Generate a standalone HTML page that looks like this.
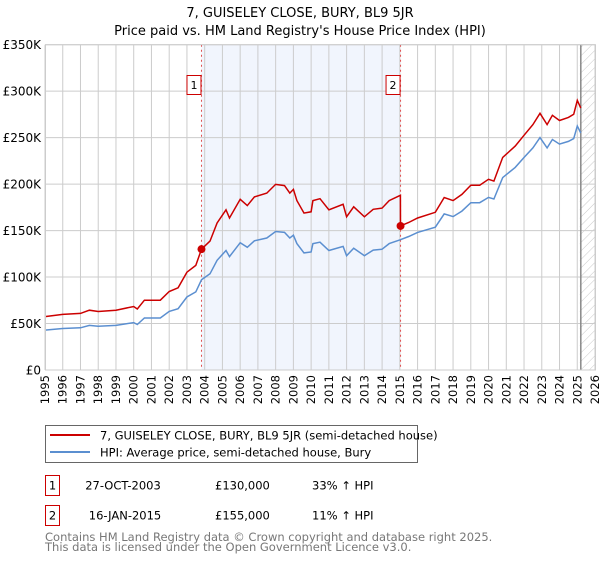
<!DOCTYPE html>
<html><head><meta charset="utf-8"><style>
body{margin:0;background:#fff;font-family:"Liberation Sans","DejaVu Sans",sans-serif}
svg text{font-family:"DejaVu Sans","Liberation Sans",sans-serif}
</style></head><body>
<svg id="c" width="600" height="560" xmlns="http://www.w3.org/2000/svg">
<defs><pattern id="hatch" width="6" height="6" patternUnits="userSpaceOnUse" patternTransform="rotate(45)"><line x1="0" y1="0" x2="0" y2="6" stroke="#bbb" stroke-width="0.8"/></pattern></defs>
<text x="300" y="17" text-anchor="middle" font-size="13">7, GUISELEY CLOSE, BURY, BL9 5JR</text>
<text x="300" y="35" text-anchor="middle" font-size="13">Price paid vs. HM Land Registry's House Price Index (HPI)</text>
<g id="plot"></g>
<g>
<rect x="45.5" y="425.5" width="372" height="37" fill="#fff" stroke="#666"/>
<line x1="50" y1="435" x2="90" y2="435" stroke="#cc0000" stroke-width="2"/>
<text x="100" y="439.5" font-size="11.5">7, GUISELEY CLOSE, BURY, BL9 5JR (semi-detached house)</text>
<line x1="50" y1="452" x2="90" y2="452" stroke="#5b8fd0" stroke-width="2"/>
<text x="100" y="456.5" font-size="11.5">HPI: Average price, semi-detached house, Bury</text>
</g>
<g font-size="11.5">
<rect x="45.5" y="475.5" width="14" height="20" fill="#fff" stroke="#cc0000"/>
<text x="52.5" y="489.5" text-anchor="middle">1</text>
<text x="123" y="489.5" text-anchor="middle">27-OCT-2003</text>
<text x="215" y="489.5">£130,000</text>
<text x="312" y="489.5">33% ↑ HPI</text>
<rect x="45.5" y="505.5" width="14" height="20" fill="#fff" stroke="#cc0000"/>
<text x="52.5" y="519.5" text-anchor="middle">2</text>
<text x="125" y="519.5" text-anchor="middle">16-JAN-2015</text>
<text x="215" y="519.5">£155,000</text>
<text x="312" y="519.5">11% ↑ HPI</text>
</g>
<text x="45" y="541" font-size="11.5" fill="#777">Contains HM Land Registry data © Crown copyright and database right 2025.</text>
<text x="45" y="551" font-size="11.5" fill="#777">This data is licensed under the Open Government Licence v3.0.</text>
</svg>
<script>
const hpiYears=[1995,1996,1997,1997.5,1998,1999,2000,2000.2,2000.6,2001.5,2002,2002.5,2003,2003.5,2003.82,2004.3,2004.7,2005.2,2005.4,2006,2006.4,2006.8,2007.5,2008,2008.5,2008.8,2009,2009.2,2009.6,2010,2010.1,2010.5,2011,2011.8,2012,2012.4,2013,2013.5,2014,2014.4,2015,2015.5,2016,2017,2017.5,2018,2018.5,2019,2019.5,2020,2020.3,2020.8,2021.5,2022,2022.5,2022.9,2023.3,2023.6,2024,2024.5,2024.8,2025.0,2025.2];
const hpiValues=[42.9,44.6,45.4,48,47,48,51,49,56,56,63,66,78.5,84,97,103.5,118,128.6,122,137,132,139,142,149,148,142,145,136,126,127,136,137.5,128.6,133,123,131,123,129,130,136,140,143.6,148,153.6,168,165,171,180,180,185.7,184,207,218,228.6,239,250,239,248,243,246,249,262.5,255];
const saleYears=[2003.82,2015.04];
const salePrices=[130,155];
const yTicks=[0,50,100,150,200,250,300,350];
const yLabels=["£0","£50K","£100K","£150K","£200K","£250K","£300K","£350K"];
const xTicks=[1995,1996,1997,1998,1999,2000,2001,2002,2003,2004,2005,2006,2007,2008,2009,2010,2011,2012,2013,2014,2015,2016,2017,2018,2019,2020,2021,2022,2023,2024,2025,2026];
const X0=45,X1=595,Y0=370,Y1=44.7;
const xs=y=>X0+(y-1995)/(2026-1995)*(X1-X0);
const ys=v=>Y0-v/350*(Y0-Y1);
const NS="http://www.w3.org/2000/svg";
const g=document.getElementById('plot');
function mk(t,a){const e=document.createElementNS(NS,t);for(const k in a)e.setAttribute(k,a[k]);g.appendChild(e);return e;}
function hpiAt(t){for(let i=1;i<hpiYears.length;i++){if(t<=hpiYears[i]){const f=(t-hpiYears[i-1])/(hpiYears[i]-hpiYears[i-1]);return hpiValues[i-1]+f*(hpiValues[i]-hpiValues[i-1]);}}return hpiValues[hpiValues.length-1];}
let e=mk('rect',{x:xs(saleYears[0]),y:Y1,width:xs(saleYears[1])-xs(saleYears[0]),height:Y0-Y1,fill:'#eef3fc',opacity:0.8});


const lastYear=hpiYears[hpiYears.length-1];
e=mk('rect',{x:xs(lastYear)-1,y:Y1,width:X1-xs(lastYear)+1,height:Y0-Y1,fill:'url(#hatch)'});


xTicks.forEach(t=>{const l=mk('line',{x1:xs(t),x2:xs(t),y1:Y1,y2:Y0,stroke:'#ccc','stroke-width':1});


const tx=mk('text',{x:0,y:0,'font-size':11.5,'text-anchor':'end',transform:`translate(${xs(t)+4},${Y0+5}) rotate(-90)`});tx.textContent=t;

});
yTicks.forEach((t,i)=>{const l=mk('line',{x1:X0,x2:X1,y1:ys(t),y2:ys(t),stroke:'#ccc','stroke-width':1});


const tx=mk('text',{x:X0-4,y:ys(t)+4.5,'font-size':12,'text-anchor':'end'});tx.textContent=yLabels[i];

});
e=mk('line',{x1:xs(lastYear),x2:xs(lastYear),y1:Y1,y2:Y0,stroke:'#888','stroke-width':1.5});


saleYears.forEach((s,i)=>{const l=mk('line',{x1:xs(s),x2:xs(s),y1:Y1,y2:Y0,stroke:'#e05050','stroke-width':1,'stroke-dasharray':'2,3'});

});
// HPI line
let d=hpiYears.map((t,i)=>(i?'L':'M')+xs(t).toFixed(1)+','+ys(hpiValues[i]).toFixed(1)).join('');
e=mk('path',{d:d,fill:'none',stroke:'#5b8fd0','stroke-width':1.5});


// property line: HPI indexed from each sale
const f1=salePrices[0]/hpiAt(saleYears[0]),f2=salePrices[1]/hpiAt(saleYears[1]);
const pts=[];
hpiYears.forEach((t,i)=>{if(t<saleYears[1])pts.push([t,hpiValues[i]*f1]);});
pts.push([saleYears[1]-0.01,hpiAt(saleYears[1]-0.01)*f1]);
pts.push([saleYears[1],salePrices[1]]);
hpiYears.forEach((t,i)=>{if(t>saleYears[1])pts.push([t,hpiValues[i]*f2]);});
d=pts.map((p,i)=>(i?'L':'M')+xs(p[0]).toFixed(1)+','+ys(p[1]).toFixed(1)).join('');
e=mk('path',{d:d,fill:'none',stroke:'#cc0000','stroke-width':1.5});


saleYears.forEach((s,i)=>{const c=mk('circle',{cx:xs(s),cy:ys(salePrices[i]),r:4,fill:'#cc0000'});


const r=mk('rect',{x:xs(s)-14.5,y:75.5,width:14,height:19,fill:'#fff',stroke:'#cc0000'});


const tx=mk('text',{x:xs(s)-7.5,y:89,'font-size':11,'text-anchor':'middle'});tx.textContent=String(i+1);

});
e=mk('rect',{x:X0+0.5,y:Y1,width:X1-X0,height:Y0-Y1,fill:'none',stroke:'#ccc'});


</script>
</body></html>
